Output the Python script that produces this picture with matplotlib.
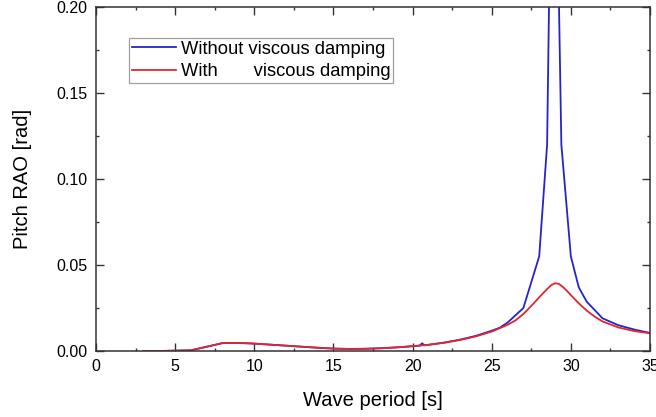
import matplotlib
matplotlib.use("Agg")
import matplotlib.pyplot as plt
from matplotlib.ticker import MultipleLocator, FormatStrFormatter

plt.rcParams['font.family'] = ['Liberation Sans', 'DejaVu Sans']

# --- data ---
period_with = [3, 4, 5, 6, 7, 8, 9, 10, 11, 12, 13, 14, 15, 16, 17, 18, 19, 20,
               21, 22, 23, 24, 25, 26, 26.5, 27, 27.5, 28, 28.5, 28.75, 29,
               29.25, 29.5, 29.75, 30, 30.5, 31, 31.5, 32, 33, 34, 35]
rao_with = [0.0, 0.0, 0.0002, 0.0004, 0.0025, 0.0046, 0.0047, 0.0043, 0.0037,
            0.0031, 0.0025, 0.0019, 0.0014, 0.0012, 0.0013, 0.0016, 0.0021,
            0.0028, 0.0036, 0.0048, 0.0064, 0.0085, 0.0113, 0.0152, 0.0178,
            0.0215, 0.0262, 0.0312, 0.0360, 0.0382, 0.0394, 0.0390, 0.0372,
            0.0350, 0.0325, 0.0277, 0.0235, 0.0200, 0.0172, 0.0137, 0.0116,
            0.0103]

period_without = [3, 4, 5, 6, 7, 8, 9, 10, 11, 12, 13, 14, 15, 16, 17, 18, 19,
                  20, 20.45, 20.6, 20.75, 21, 22, 23, 24, 25, 25.5, 26, 27, 28,
                  28.5, 28.9, 29.4, 30, 30.5, 31, 32, 33, 34, 35]
rao_without = [0.0, 0.0, 0.0002, 0.0004, 0.0025, 0.0046, 0.0047, 0.0043,
               0.0037, 0.0031, 0.0025, 0.0019, 0.0014, 0.0012, 0.0013, 0.0016,
               0.0021, 0.0028, 0.0031, 0.0045, 0.0033, 0.0036, 0.0049, 0.0066,
               0.0088, 0.0118, 0.0135, 0.0165, 0.025, 0.055, 0.12, 0.39, 0.12,
               0.055, 0.037, 0.0287, 0.019, 0.015, 0.0125, 0.0105]

label_without = "Without viscous damping"
label_with = "With       viscous damping"

# --- figure ---
fig = plt.figure(figsize=(6.56, 4.17), dpi=100)
ax = fig.add_axes([96/656, 66/417, 554/656, 344/417])

ax.plot(period_without, rao_without, color='#2424cc', lw=1.3, label=label_without)
ax.plot(period_with, rao_with, color='#e0262e', lw=1.3, label=label_with)

ax.set_xlim(0, 35)
ax.set_ylim(0, 0.20)
ax.xaxis.set_major_locator(MultipleLocator(5))
ax.xaxis.set_minor_locator(MultipleLocator(2.5))
ax.yaxis.set_major_locator(MultipleLocator(0.05))
ax.yaxis.set_minor_locator(MultipleLocator(0.025))
ax.yaxis.set_major_formatter(FormatStrFormatter('%.2f'))

ax.tick_params(which='both', direction='in', top=True, right=True,
               labelsize=11.5, color='#333333', width=1.0)
ax.tick_params(which='major', length=5.5, pad=6)
ax.tick_params(which='minor', length=2.5)
for s in ax.spines.values():
    s.set_color('#333333')
    s.set_linewidth(1.1)

ax.set_xlabel('Wave period [s]', fontsize=14.5, labelpad=12)
ax.set_ylabel('Pitch RAO [rad]', fontsize=14.5, labelpad=18)

leg = ax.legend(loc='upper left', bbox_to_anchor=(0.06, 0.91), fontsize=13.2,
                frameon=True, fancybox=False, shadow=False, borderpad=0.15,
                handlelength=2.4, handletextpad=0.25, labelspacing=0.3,
                borderaxespad=0)
leg.get_frame().set_edgecolor('#888888')
leg.get_frame().set_linewidth(0.9)

fig.savefig('out.png', dpi=100)
